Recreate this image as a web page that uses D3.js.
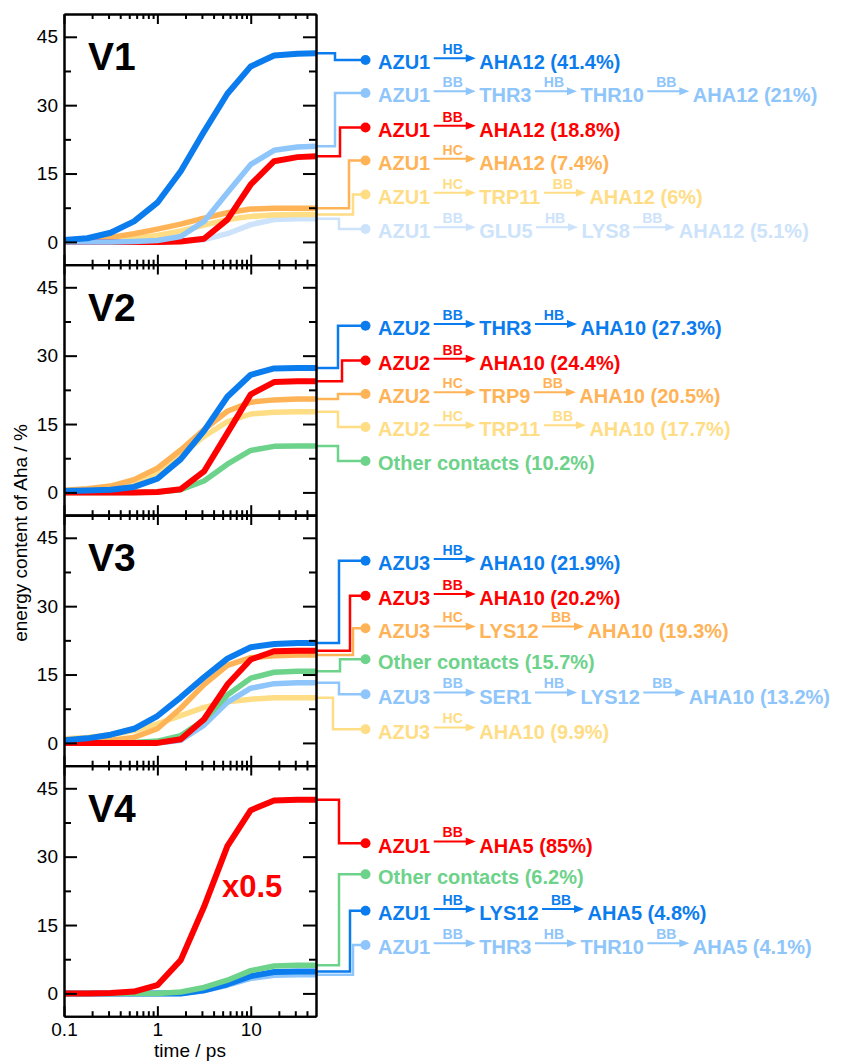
<!DOCTYPE html>
<html>
<head>
<meta charset="utf-8">
<script src="https://cdn.jsdelivr.net/npm/d3@7"></script>
<style>
  body { margin: 0; background: #fff; }
  svg { display: block; font-family: "Liberation Sans", Arial, Helvetica, sans-serif; }
</style>
</head>
<body>
<div id="chart"></div>
<script>
// time grid of the curves (ps)
const times = [0.1, 0.178, 0.316, 0.562, 1, 1.78, 3.16, 5.62, 10, 17.8, 31.6, 50];
const panelNames = ["V1", "V2", "V3", "V4"];

const xMajor = [0.1, 1, 10];
const xMinor = [0.2, 0.3, 0.4, 0.5, 0.6, 0.7, 0.8, 0.9, 2, 3, 4, 5, 6, 7, 8, 9, 20, 30, 40];
const yMajor = [0, 15, 30, 45];
const yMinor = [7.5, 22.5, 37.5];

// colours
const cBlue = "#0b7cee", cLight = "#8ec5fa", cRed = "#ff0000", cOrange = "#ffb357",
      cYellow = "#ffdd85", cPale = "#cce3fb", cGreen = "#6dd28a";

// ---- V1
const v1Nodes = [["AZU1", "AHA12"], ["AZU1", "THR3", "THR10", "AHA12"], ["AZU1", "AHA12"],
                 ["AZU1", "AHA12"], ["AZU1", "TRP11", "AHA12"], ["AZU1", "GLU5", "LYS8", "AHA12"]];
const v1Bonds = [["HB"], ["BB", "HB", "BB"], ["BB"], ["HC"], ["HC", "BB"], ["BB", "HB", "BB"]];
const v1Pct = [41.4, 21, 18.8, 7.4, 6, 5.1];
const v1Colors = [cBlue, cLight, cRed, cOrange, cYellow, cPale];
const v1Values = [
  [0.4, 0.8, 2.0, 4.5, 8.6, 15.5, 24.2, 32.5, 38.5, 40.9, 41.3, 41.4],
  [0, 0, 0, 0.1, 0.3, 1.2, 4.5, 10.8, 17, 20.1, 20.8, 21],
  [0, 0, 0, 0, 0, 0.1, 0.7, 4.9, 12.6, 17.7, 18.6, 18.8],
  [0.3, 0.5, 1.0, 1.8, 2.8, 3.9, 5.2, 6.4, 7.2, 7.4, 7.4, 7.4],
  [0.1, 0.2, 0.4, 0.8, 1.4, 2.4, 3.7, 4.9, 5.6, 5.9, 6, 6],
  [0, 0, 0, 0, 0, 0.2, 0.5, 1.8, 3.8, 4.9, 5.1, 5.1]
];

// ---- V2
const v2Nodes = [["AZU2", "THR3", "AHA10"], ["AZU2", "AHA10"], ["AZU2", "TRP9", "AHA10"],
                 ["AZU2", "TRP11", "AHA10"], ["Other contacts"]];
const v2Bonds = [["BB", "HB"], ["BB"], ["HC", "BB"], ["HC", "BB"], []];
const v2Pct = [27.3, 24.4, 20.5, 17.7, 10.2];
const v2Colors = [cBlue, cRed, cOrange, cYellow, cGreen];
const v2Values = [
  [0.3, 0.4, 0.6, 1.2, 3.0, 7.3, 13.5, 21, 25.8, 27.2, 27.3, 27.3],
  [0, 0, 0, 0, 0.1, 0.7, 4.6, 13, 21.5, 24.2, 24.4, 24.4],
  [0.5, 0.8, 1.4, 2.8, 5.3, 9.3, 13.8, 17.8, 19.8, 20.3, 20.5, 20.5],
  [0.3, 0.5, 1.0, 2.2, 4.4, 8.2, 12.3, 15.5, 17.2, 17.6, 17.7, 17.7],
  [0, 0, 0, 0, 0.1, 0.6, 2.5, 6.2, 9.2, 10.1, 10.2, 10.2]
];

// ---- V3
const v3Nodes = [["AZU3", "AHA10"], ["AZU3", "AHA10"], ["AZU3", "LYS12", "AHA10"], ["Other contacts"],
                 ["AZU3", "SER1", "LYS12", "AHA10"], ["AZU3", "AHA10"]];
const v3Bonds = [["HB"], ["BB"], ["HC", "BB"], [], ["BB", "HB", "BB"], ["HC"]];
const v3Pct = [21.9, 20.2, 19.3, 15.7, 13.2, 9.9];
const v3Colors = [cBlue, cRed, cOrange, cGreen, cLight, cYellow];
const v3Values = [
  [0.6, 1.0, 1.8, 3.1, 5.9, 10.0, 14.4, 18.5, 21, 21.7, 21.9, 21.9],
  [0, 0, 0, 0, 0, 0.8, 5.2, 12.8, 18.3, 20.1, 20.2, 20.2],
  [0.2, 0.3, 0.6, 1.2, 3.1, 7.6, 12.8, 17, 18.7, 19.1, 19.3, 19.3],
  [0, 0, 0, 0.1, 0.4, 1.6, 5.0, 10.5, 14.2, 15.5, 15.7, 15.7],
  [0, 0, 0, 0, 0, 0.6, 3.9, 8.9, 12, 13.0, 13.2, 13.2],
  [0.9, 1.2, 1.8, 2.7, 4.2, 6.0, 7.8, 9.0, 9.6, 9.9, 9.9, 9.9]
];

// ---- V4 (first curve drawn scaled by 0.5)
const v4Nodes = [["AZU1", "AHA5"], ["Other contacts"], ["AZU1", "LYS12", "AHA5"], ["AZU1", "THR3", "THR10", "AHA5"]];
const v4Bonds = [["BB"], [], ["HB", "BB"], ["BB", "HB", "BB"]];
const v4Pct = [85, 6.2, 4.8, 4.1];
const v4Colors = [cRed, cGreen, cBlue, cLight];
const v4Values = [
  [0, 0, 0.1, 0.4, 1.8, 7.3, 19, 32.3, 40.2, 42.3, 42.5, 42.5],
  [0, 0, 0, 0, 0, 0.3, 1.3, 2.9, 5.0, 6.0, 6.2, 6.2],
  [0, 0, 0, 0, 0, 0, 0.7, 2.0, 3.8, 4.7, 4.8, 4.8],
  [0, 0, 0, 0, 0, 0, 0.6, 1.8, 3.3, 4.0, 4.1, 4.1]
];

// layout
const W = 855, H = 1061;
const left = 64, right = 316;
const panelTops = [14, 264.5, 515, 765.5];
const panelH = 250.7;
const bendX = [[335, 335, 340, 349, 353, 339], [338, 342, 338, 338, 338],
               [339, 350, 353, 340, 339, 333], [339, 339, 350, 353]];
const rowY = [[60, 93, 127.5, 160.5, 194.5, 229], [325.7, 360.5, 394, 427, 461],
              [560.7, 595.7, 628.3, 659.3, 694.3, 729.3], [843.3, 874.3, 910.7, 945]];
const dotX = 365.5, textX = 378;

const panels = [
  { nodes: v1Nodes, bonds: v1Bonds, pct: v1Pct, colors: v1Colors, values: v1Values },
  { nodes: v2Nodes, bonds: v2Bonds, pct: v2Pct, colors: v2Colors, values: v2Values },
  { nodes: v3Nodes, bonds: v3Bonds, pct: v3Pct, colors: v3Colors, values: v3Values },
  { nodes: v4Nodes, bonds: v4Bonds, pct: v4Pct, colors: v4Colors, values: v4Values }
];

const svg = d3.select("#chart").append("svg")
  .attr("width", W)
  .attr("height", H);

const x = d3.scaleLog().domain([0.1, 50]).range([left, right]);

panels.forEach((p, i) => {
  const top = panelTops[i], bottom = top + panelH;
  const y = d3.scaleLinear().domain([-5, 50]).range([bottom, top]);
  const g = svg.append("g");

  // connectors to the legend rows
  p.values.forEach((vals, k) => {
    const y0 = y(vals[vals.length - 1]);
    g.append("path")
      .attr("d", `M${right},${y0}H${bendX[i][k]}V${rowY[i][k]}H${dotX}`)
      .attr("fill", "none")
      .attr("stroke", p.colors[k])
      .attr("stroke-width", 2.5);
    g.append("circle")
      .attr("cx", dotX).attr("cy", rowY[i][k]).attr("r", 5)
      .attr("fill", p.colors[k]);
  });

  // curves, last legend entry drawn first
  const line = d3.line().x((d, j) => x(times[j])).y(d => y(d));
  d3.range(p.values.length).reverse().forEach(k => {
    const c = p.colors[k];
    g.append("path")
      .datum(p.values[k])
      .attr("d", line)
      .attr("fill", "none")
      .attr("stroke", c)
      .attr("stroke-width", (c === cBlue || c === cRed) ? 6 : 5.5)
      .attr("stroke-linejoin", "round");
  });

  // axes / frame
  const styleAxis = sel => {
    sel.attr("font-size", 19).attr("font-family", null);
    sel.selectAll("path.domain").attr("stroke-width", 2);
    sel.selectAll(".tick line").attr("stroke-width", 2);
  };
  g.append("g").attr("transform", `translate(${left},0)`)
    .call(d3.axisLeft(y).tickValues(yMajor).tickSizeInner(-13).tickSizeOuter(0).tickPadding(6))
    .call(styleAxis);
  g.append("g").attr("transform", `translate(${left},0)`)
    .call(d3.axisLeft(y).tickValues(yMinor).tickSizeInner(-7).tickSizeOuter(0).tickFormat(""))
    .call(styleAxis);
  g.append("g").attr("transform", `translate(${right},0)`)
    .call(d3.axisRight(y).tickValues(yMajor).tickSizeInner(-13).tickSizeOuter(0).tickFormat(""))
    .call(styleAxis);
  g.append("g").attr("transform", `translate(${right},0)`)
    .call(d3.axisRight(y).tickValues(yMinor).tickSizeInner(-7).tickSizeOuter(0).tickFormat(""))
    .call(styleAxis);

  g.append("g").attr("transform", `translate(0,${top})`)
    .call(d3.axisTop(x).tickValues(xMajor).tickSizeInner(-10).tickSizeOuter(0).tickFormat(""))
    .call(styleAxis);
  g.append("g").attr("transform", `translate(0,${top})`)
    .call(d3.axisTop(x).tickValues(xMinor).tickSizeInner(-5).tickSizeOuter(0).tickFormat(""))
    .call(styleAxis);
  const last = i === panels.length - 1;
  g.append("g").attr("transform", `translate(0,${bottom})`)
    .call(d3.axisBottom(x).tickValues(xMajor).tickSizeInner(-10).tickSizeOuter(0).tickPadding(6)
      .tickFormat(d => last ? (d < 1 ? "0.1" : d3.format("d")(d)) : ""))
    .call(styleAxis);
  g.append("g").attr("transform", `translate(0,${bottom})`)
    .call(d3.axisBottom(x).tickValues(xMinor).tickSizeInner(-5).tickSizeOuter(0).tickFormat(""))
    .call(styleAxis);

  g.append("text")
    .attr("x", 88).attr("y", top + 56)
    .attr("font-size", 39).attr("font-weight", "bold")
    .text(panelNames[i]);

  // legend rows
  p.nodes.forEach((nodes, k) => {
    const c = p.colors[k];
    const row = g.append("g").attr("transform", `translate(${textX},${rowY[i][k]})`);
    let cx = 0;
    nodes.forEach((n, m) => {
      const label = m === nodes.length - 1 ? `${n} (${p.pct[k]}%)` : n;
      const t = row.append("text")
        .attr("x", cx).attr("y", 9.3)
        .attr("font-size", 20).attr("font-weight", "bold")
        .attr("fill", c)
        .text(label);
      cx += t.node().getComputedTextLength();
      if (m < nodes.length - 1) {
        const a0 = cx + 3.5, a1 = a0 + 42, ay = -1.7;
        row.append("line")
          .attr("x1", a0).attr("x2", a1 - 8).attr("y1", ay).attr("y2", ay)
          .attr("stroke", c).attr("stroke-width", 2);
        row.append("path")
          .attr("d", `M${a1 - 10},${ay - 4}L${a1},${ay}L${a1 - 10},${ay + 4}Z`)
          .attr("fill", c);
        row.append("text")
          .attr("x", (a0 + a1) / 2 - 2).attr("y", -6)
          .attr("text-anchor", "middle")
          .attr("font-size", 14).attr("font-weight", "bold")
          .attr("fill", c)
          .text(p.bonds[k][m]);
        cx = a1 + 3.5;
      }
    });
  });
});

svg.append("text")
  .attr("x", 222).attr("y", 897)
  .attr("font-size", 31).attr("font-weight", "bold")
  .attr("fill", cRed)
  .text("x0.5");

svg.append("text")
  .attr("x", (left + right) / 2).attr("y", 1057)
  .attr("text-anchor", "middle")
  .attr("font-size", 19)
  .text("time / ps");

svg.append("text")
  .attr("transform", "translate(27,533) rotate(-90)")
  .attr("text-anchor", "middle")
  .attr("font-size", 19)
  .text("energy content of Aha / %");
</script>
</body>
</html>
